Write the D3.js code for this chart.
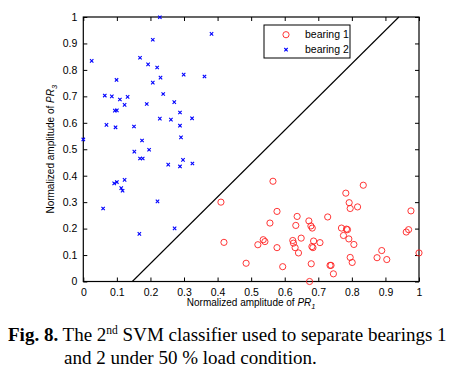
<!DOCTYPE html>
<html><head><meta charset="utf-8">
<script src="https://cdn.jsdelivr.net/npm/d3@7"></script>
<style>
html,body{margin:0;padding:0;background:#fff;}
svg{display:block;}
</style></head>
<body>
<svg id="chart" width="476" height="379"></svg>
<script>
// ---- data ----
const bearing1X = [0.410,0.419,0.485,0.520,0.536,0.541,0.556,0.565,0.577,0.577,0.594,0.624,0.626,0.631,0.633,0.637,0.641,0.649,0.672,0.674,0.678,0.679,0.682,0.681,0.684,0.686,0.705,0.728,0.735,0.738,0.745,0.769,0.775,0.784,0.787,0.782,0.791,0.792,0.795,0.795,0.801,0.806,0.817,0.834,0.875,0.889,0.904,0.962,0.969,0.976,1.000];
const bearing1Y = [0.300,0.148,0.069,0.139,0.158,0.151,0.221,0.379,0.265,0.128,0.056,0.155,0.145,0.128,0.212,0.246,0.108,0.164,0.229,0.000,0.210,0.067,0.202,0.132,0.128,0.153,0.147,0.244,0.061,0.061,0.029,0.202,0.174,0.198,0.196,0.334,0.161,0.298,0.276,0.091,0.072,0.140,0.282,0.364,0.090,0.117,0.083,0.187,0.196,0.267,0.108];
const bearing2X = [0.025,0.000,0.099,0.064,0.085,0.109,0.132,0.123,0.094,0.100,0.069,0.096,0.151,0.175,0.152,0.169,0.193,0.207,0.228,0.220,0.207,0.230,0.238,0.189,0.228,0.261,0.271,0.288,0.288,0.291,0.299,0.324,0.361,0.382,0.196,0.169,0.177,0.253,0.288,0.297,0.325,0.092,0.100,0.113,0.117,0.123,0.059,0.221,0.167,0.272];
const bearing2Y = [0.834,0.537,0.762,0.703,0.700,0.688,0.698,0.668,0.646,0.647,0.592,0.583,0.586,0.533,0.491,0.846,0.821,0.914,0.999,0.809,0.752,0.771,0.709,0.671,0.616,0.612,0.678,0.639,0.589,0.545,0.782,0.617,0.775,0.936,0.498,0.465,0.465,0.442,0.435,0.460,0.446,0.371,0.376,0.353,0.343,0.384,0.276,0.303,0.180,0.201];
const boundaryX = [0.146, 0.940];
const boundaryY = [0.000, 1.000];
const tickValues = [0,0.1,0.2,0.3,0.4,0.5,0.6,0.7,0.8,0.9,1];
const tickLabels = ["0","0.1","0.2","0.3","0.4","0.5","0.6","0.7","0.8","0.9","1"];
const legendLabels = ["bearing 1","bearing 2"];

// ---- layout ----
const svg = d3.select("#chart");
const L = 83.3, R = 419, T = 17, B = 281.5;
const x = d3.scaleLinear().domain([0,1]).range([L,R]);
const y = d3.scaleLinear().domain([0,1]).range([B,T]);
const sans = "Arial, 'Liberation Sans', Helvetica, sans-serif";
const serif = "'Times New Roman', 'Liberation Serif', serif";

const fmt = d => tickLabels[tickValues.indexOf(d)] || "";
const tl = 4;
const gx = svg.append("g").attr("transform",`translate(0,${B})`)
  .call(d3.axisBottom(x).tickValues(tickValues).tickFormat(fmt).tickSizeInner(-tl).tickSizeOuter(0).tickPadding(7));
const gxt = svg.append("g").attr("transform",`translate(0,${T})`)
  .call(d3.axisTop(x).tickValues(tickValues).tickFormat("").tickSizeInner(-tl).tickSizeOuter(0));
const gy = svg.append("g").attr("transform",`translate(${L},0)`)
  .call(d3.axisLeft(y).tickValues(tickValues).tickFormat(fmt).tickSizeInner(-tl).tickSizeOuter(0).tickPadding(6));
const gyr = svg.append("g").attr("transform",`translate(${R},0)`)
  .call(d3.axisRight(y).tickValues(tickValues).tickFormat("").tickSizeInner(-tl).tickSizeOuter(0));
[gx,gxt,gy,gyr].forEach(g=>{
  g.select(".domain").remove();
  g.selectAll(".tick line").attr("stroke","#000").attr("stroke-width",1);
  g.selectAll("text").attr("font-family",sans).attr("font-size","10.5px").attr("fill","#000");
});
svg.append("rect").attr("x",L).attr("y",T).attr("width",R-L).attr("height",B-T)
  .attr("fill","none").attr("stroke","#000").attr("stroke-width",1.2);

// boundary line
const line = d3.line().x(d=>x(d[0])).y(d=>y(d[1]));
svg.append("path").datum(boundaryX.map((v,i)=>[v,boundaryY[i]]))
  .attr("d",line).attr("fill","none").attr("stroke","#000").attr("stroke-width",1.1);

// bearing 1 circles
svg.append("g").selectAll("circle").data(bearing1X.map((v,i)=>[v,bearing1Y[i]]))
  .join("circle").attr("cx",d=>x(d[0])).attr("cy",d=>y(d[1])).attr("r",3.1)
  .attr("fill","none").attr("stroke","#ff2020").attr("stroke-width",0.9);

// bearing 2 crosses
const cs = 1.7;
const cross = (sel)=>sel.attr("d",d=>`M${x(d[0])-cs},${y(d[1])-cs}L${x(d[0])+cs},${y(d[1])+cs}M${x(d[0])-cs},${y(d[1])+cs}L${x(d[0])+cs},${y(d[1])-cs}`)
  .attr("stroke","#0000ff").attr("stroke-width",1.1).attr("fill","none");
svg.append("g").selectAll("path").data(bearing2X.map((v,i)=>[v,bearing2Y[i]]))
  .join("path").call(cross);

// legend
const lg = svg.append("g");
lg.append("rect").attr("x",264).attr("y",25).attr("width",86).attr("height",33)
  .attr("fill","#fff").attr("stroke","#000").attr("stroke-width",1);
lg.append("circle").attr("cx",286).attr("cy",34.7).attr("r",3.1)
  .attr("fill","none").attr("stroke","#ff2020").attr("stroke-width",0.9);
lg.append("path").datum([x.invert(286), y.invert(49.7)]).call(cross);
legendLabels.forEach((t,i)=>{
  lg.append("text").attr("x",305).attr("y",34.7+15*i).attr("dy","0.35em")
    .attr("font-family",sans).attr("font-size","10.5px").text(t);
});

// axis labels
function axisLabel(g, sub){
  g.append("tspan").text("Normalized amplitude of ");
  g.append("tspan").attr("font-style","italic").text("PR");
  g.append("tspan").attr("font-style","italic").attr("font-size","7.5px").attr("dy","3").text(sub);
}
const xl = svg.append("text").attr("x",(L+R)/2).attr("y",306).attr("text-anchor","middle")
  .attr("font-family",sans).attr("font-size","10px");
axisLabel(xl,"1");
const yl = svg.append("text").attr("transform",`translate(54,${(T+B)/2}) rotate(-90)`).attr("text-anchor","middle")
  .attr("font-family",sans).attr("font-size","10px");
axisLabel(yl,"3");

// caption
const c1 = svg.append("text").attr("x",8).attr("y",340.5).attr("font-family",serif).attr("font-size","19px");
c1.append("tspan").attr("font-weight","bold").text("Fig. 8.");
c1.append("tspan").text(" The 2");
c1.append("tspan").attr("font-size","11.5px").attr("dy","-7").text("nd");
c1.append("tspan").attr("dy","7").text(" SVM classifier used to separate bearings 1");
svg.append("text").attr("x",64).attr("y",364).attr("font-family",serif).attr("font-size","19px")
  .text("and 2 under 50 % load condition.");
</script>
</body></html>
